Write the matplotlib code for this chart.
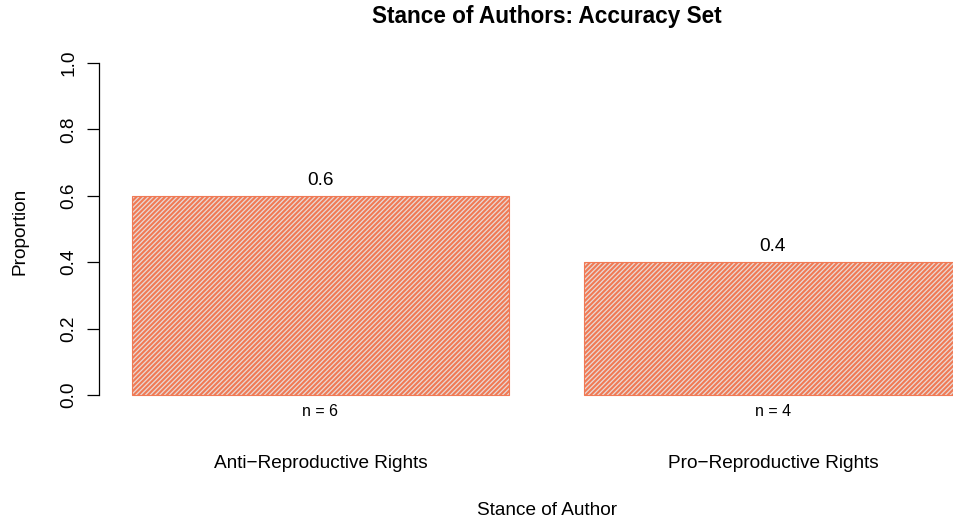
import numpy as np
import matplotlib
matplotlib.use('Agg')
import matplotlib.pyplot as plt

# data
stances = ['Anti\u2212Reproductive Rights', 'Pro\u2212Reproductive Rights']
proportions = [0.6, 0.4]
counts = [6, 4]
yticks = [0.0, 0.2, 0.4, 0.6, 0.8, 1.0]

plt.rcParams['font.family'] = ['Liberation Sans', 'DejaVu Sans']
plt.rcParams['hatch.linewidth'] = 1.5
plt.rcParams['hatch.color'] = '#EE6340'

W, H = 954, 520
fs = 13.7
fig = plt.figure(figsize=(W / 100, H / 100), dpi=100)

# axes placed in pixel coords: spine at x=99, y=0 at 395, y=1 at 63
left, right = 99, 954
ybot, ytop = 395 + 0.04 * 332, 63 - 0.04 * 332
ax = fig.add_axes([left / W, 1 - ybot / H, (right - left) / W, (ybot - ytop) / H])

px_per_unit = 377.0
x0 = 0.2 - (132 - left) / px_per_unit
x1 = 0.2 + (right - 132) / px_per_unit
ax.set_xlim(x0, x1)
ax.set_ylim(-0.04, 1.04)

pos = np.array([0.7, 1.9])
bars = ax.bar(pos, proportions, width=1.0, facecolor='#E9D9D5', edgecolor='#F07A55',
              hatch='///////', linewidth=0.8, clip_on=False)

def ypix(y):
    return 395 - y * 332

for p, v, n in zip(pos, proportions, counts):
    ax.text(p, v + 0.033, f'{v:g}', ha='center', va='baseline', fontsize=fs)
    ax.text(p, -0.064, f'n = {n}', ha='center', va='baseline', fontsize=11.5, clip_on=False)

for s in ['top', 'right', 'bottom']:
    ax.spines[s].set_visible(False)
ax.spines['left'].set_bounds(0, 1)
ax.spines['left'].set_linewidth(0.9)
ax.set_yticks(yticks)
ax.set_yticklabels([f'{t:.1f}' for t in yticks], rotation=90, va='center', fontsize=fs)
ax.tick_params(axis='y', length=8.6, width=0.9, pad=7)
ax.set_xticks([])

for p, s in zip(pos, stances):
    xp = (132 + (p - 0.2) * px_per_unit)
    fig.text(xp / W, 1 - 468 / H, s, ha='center', va='baseline', fontsize=fs)

# title and x label centred on the plot region (which runs past the right edge)
cx = 547
fig.text(cx / W, 1 - 22.5 / H, 'Stance of Authors: Accuracy Set', ha='center', va='baseline',
         fontsize=16.3, fontweight='bold')
fig.text(cx / W, 1 - 515 / H, 'Stance of Author', ha='center', va='baseline', fontsize=fs)
fig.text(20 / W, 1 - 231 / H, 'Proportion', ha='center', va='center', fontsize=fs, rotation=90)

fig.savefig('out.png', dpi=100)
